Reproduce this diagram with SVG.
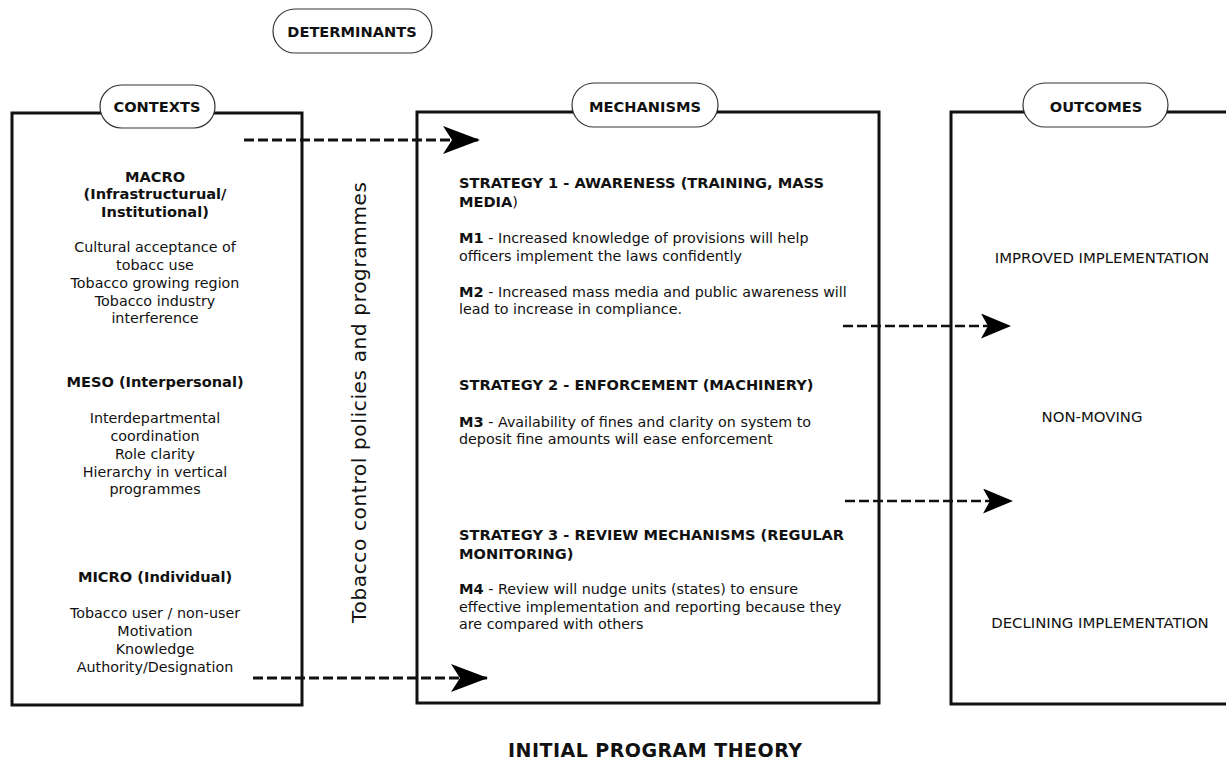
<svg xmlns="http://www.w3.org/2000/svg" width="1226" height="765" viewBox="0 0 1226 765">
<style>
text{font-family:"DejaVu Sans","Verdana","Liberation Sans",sans-serif;fill:#111;}
.b{font-weight:bold;font-size:14.6px;}
.c{text-anchor:middle;}
.t14{font-size:14.3px;}
.t15{font-size:14.9px;}
.box{fill:none;stroke:#111;stroke-width:3;}
.pill{fill:#fff;stroke:#333;stroke-width:1.2;}
.dash{fill:none;stroke:#111;stroke-width:3;stroke-dasharray:10 4;}
.dash2{fill:none;stroke:#111;stroke-width:2.5;stroke-dasharray:10 4;}
</style>
<defs>
<marker id="ahBig" markerUnits="userSpaceOnUse" markerWidth="38" markerHeight="28" viewBox="0 0 38 28" refX="37" refY="14" orient="auto">
<path d="M0,0 L37,14 L0,28 L9,14 Z" fill="#000"/>
</marker>
<marker id="ahSmall" markerUnits="userSpaceOnUse" markerWidth="31" markerHeight="25" viewBox="0 0 31 25" refX="30" refY="12.5" orient="auto">
<path d="M0,0 L30,12.5 L0,25 L7,12.5 Z" fill="#000"/>
</marker>
</defs>
<rect width="1226" height="765" fill="#fff"/>

<g id="determinants">
<rect class="pill" x="273" y="9" width="159" height="44" rx="22"/>
<text class="b c" x="352" y="37">DETERMINANTS</text>
</g>

<g id="contexts">
<rect class="box" x="12" y="113" width="290" height="592"/>
<rect class="pill" x="100" y="85" width="115" height="43" rx="21.5"/>
<text class="b c" x="157" y="112">CONTEXTS</text>
<text class="b c" x="155" y="182">MACRO</text>
<text class="b c" x="155" y="199">(Infrastructurual/</text>
<text class="b c" x="155" y="217">Institutional)</text>
<text class="c t14" x="155" y="252">Cultural acceptance of</text>
<text class="c t14" x="155" y="270">tobacc use</text>
<text class="c t14" x="155" y="288">Tobacco growing region</text>
<text class="c t14" x="155" y="306">Tobacco industry</text>
<text class="c t14" x="155" y="323">interference</text>
<text class="b c" x="155" y="387">MESO (Interpersonal)</text>
<text class="c t14" x="155" y="423">Interdepartmental</text>
<text class="c t14" x="155" y="441">coordination</text>
<text class="c t14" x="155" y="459">Role clarity</text>
<text class="c t14" x="155" y="477">Hierarchy in vertical</text>
<text class="c t14" x="155" y="494">programmes</text>
<text class="b c" x="155" y="582">MICRO (Individual)</text>
<text class="c t14" x="155" y="618">Tobacco user / non-user</text>
<text class="c t14" x="155" y="636">Motivation</text>
<text class="c t14" x="155" y="654">Knowledge</text>
<text class="c t14" x="155" y="672">Authority/Designation</text>
</g>

<g id="policies">
<text transform="translate(366,623) rotate(-90)" font-size="20" textLength="441">Tobacco control policies and programmes</text>
</g>

<g id="mechanisms">
<rect class="box" x="417" y="112" width="462" height="591"/>
<rect class="pill" x="572" y="83" width="146" height="44" rx="22"/>
<text class="b c" x="645" y="112">MECHANISMS</text>
<text class="b" x="459" y="188">STRATEGY 1 - AWARENESS (TRAINING, MASS</text>
<text class="b" x="459" y="207">MEDIA<tspan font-weight="normal">)</tspan></text>
<text class="t14" x="459" y="243"><tspan class="b">M1</tspan> - Increased knowledge of provisions will help</text>
<text class="t14" x="459" y="261">officers implement the laws confidently</text>
<text class="t14" x="459" y="297"><tspan class="b">M2</tspan> - Increased mass media and public awareness will</text>
<text class="t14" x="459" y="314">lead to increase in compliance.</text>
<text class="b" x="459" y="390">STRATEGY 2 - ENFORCEMENT (MACHINERY)</text>
<text class="t14" x="459" y="427"><tspan class="b">M3</tspan> - Availability of fines and clarity on system to</text>
<text class="t14" x="459" y="444">deposit fine amounts will ease enforcement</text>
<text class="b" x="459" y="540">STRATEGY 3 - REVIEW MECHANISMS (REGULAR</text>
<text class="b" x="459" y="559">MONITORING)</text>
<text class="t14" x="459" y="594"><tspan class="b">M4</tspan> - Review will nudge units (states) to ensure</text>
<text class="t14" x="459" y="612">effective implementation and reporting because they</text>
<text class="t14" x="459" y="629">are compared with others</text>
</g>

<g id="outcomes">
<rect class="box" x="951" y="112" width="277" height="592"/>
<rect class="pill" x="1023" y="83" width="145" height="44" rx="22"/>
<text class="b c" x="1096" y="112">OUTCOMES</text>
<text class="c t15" x="1102" y="263">IMPROVED IMPLEMENTATION</text>
<text class="c t15" x="1092" y="422">NON-MOVING</text>
<text class="c t15" x="1100" y="628">DECLINING IMPLEMENTATION</text>
</g>

<g id="connectors">
<line class="dash" x1="244" y1="140" x2="480" y2="140" marker-end="url(#ahBig)"/>
<line class="dash" x1="253" y1="678" x2="488" y2="678" marker-end="url(#ahBig)"/>
<line class="dash2" x1="843" y1="326" x2="1011" y2="326" marker-end="url(#ahSmall)"/>
<line class="dash2" x1="845" y1="501" x2="1013" y2="501" marker-end="url(#ahSmall)"/>
</g>

<g id="title">
<text class="c" x="655" y="757" font-size="19" font-weight="bold" textLength="294">INITIAL PROGRAM THEORY</text>
</g>
</svg>
